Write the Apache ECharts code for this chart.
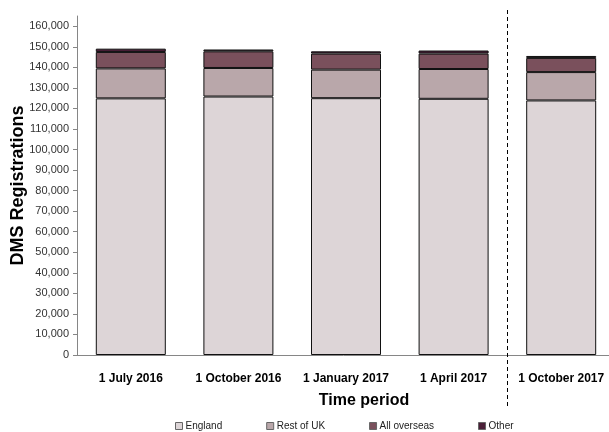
<!DOCTYPE html>
<html>
<head>
<meta charset="utf-8">
<script src="https://cdn.jsdelivr.net/npm/echarts@6/dist/echarts.min.js"></script>
<style>
  html, body { margin: 0; padding: 0; background: #fff; }
  #chart { width: 609px; height: 432px; }
</style>
</head>
<body>
<div id="chart"></div>
<script>
// DMS registrations by time period, stacked by location
const categories = ['1 July 2016', '1 October 2016', '1 January 2017', '1 April 2017', '1 October 2017'];
const england     = [124900, 125800, 125000, 124700, 123900];
const restOfUK    = [14600, 13900, 13900, 14500, 13800];
const allOverseas = [8000, 8100, 7800, 7500, 6900];
const other       = [1600, 900, 1100, 1500, 950];
const yTicks = [0, 10000, 20000, 30000, 40000, 50000, 60000, 70000, 80000,
                90000, 100000, 110000, 120000, 130000, 140000, 150000, 160000];
const yTitle = 'DMS Registrations';

const FONT = '"Liberation Sans", Arial, sans-serif';

const seriesDefs = [
  { name: 'England', data: england, color: '#DDD5D7' },
  { name: 'Rest of UK', data: restOfUK, color: '#B9A7AA' },
  { name: 'All overseas', data: allOverseas, color: '#7A505C' },
  { name: 'Other', data: other, color: '#4B1F38' }
];

const chart = echarts.init(document.getElementById('chart'), null, { renderer: 'canvas' });

chart.setOption({
  animation: false,
  textStyle: { fontFamily: FONT },
  // the plot runs slightly past the right edge of the canvas
  grid: { left: 77, width: 538, top: 16, bottom: 77, containLabel: false, outerBoundsMode: 'none' },
  legend: {
    left: 175,
    top: 421,
    padding: 0,
    itemWidth: 7,
    itemHeight: 7,
    itemGap: 44,
    icon: 'rect',
    textStyle: { fontSize: 10, color: '#222', fontFamily: FONT, padding: [0, 0, 0, -2] },
    data: seriesDefs.map(s => ({
      name: s.name,
      itemStyle: { color: s.color, borderColor: '#666', borderWidth: 1 }
    }))
  },
  xAxis: {
    type: 'category',
    data: categories,
    name: 'Time period',
    nameLocation: 'middle',
    nameGap: 38,
    nameTextStyle: { fontSize: 16, fontWeight: 'bold', color: '#000', fontFamily: FONT, padding: [0, 0, 0, 36] },
    axisLine: { lineStyle: { color: '#868686', width: 1 } },
    axisTick: { show: false },
    axisLabel: { fontSize: 12, fontWeight: 'bold', color: '#000', margin: 18, fontFamily: FONT, interval: 0 }
  },
  yAxis: {
    type: 'value',
    min: 0,
    max: 165000,
    interval: 10000,
    splitLine: { show: false },
    axisLine: { show: true, lineStyle: { color: '#868686', width: 1 } },
    axisTick: { show: true, length: 4, lineStyle: { color: '#868686' }, customValues: yTicks },
    axisLabel: {
      fontSize: 11,
      color: '#333',
      margin: 8,
      fontFamily: FONT,
      customValues: yTicks,
      formatter: v => v.toLocaleString('en-GB')
    }
  },
  series: seriesDefs.map(s => ({
    name: s.name,
    type: 'bar',
    stack: 'total',
    barWidth: 70,
    data: s.data,
    itemStyle: { color: s.color, borderColor: '#111', borderWidth: 1 }
  }))
});

// Dashed separator between the last two periods, and the vertical axis title
function drawExtras() {
  const a = chart.convertToPixel({ xAxisIndex: 0 }, categories[3]);
  const b = chart.convertToPixel({ xAxisIndex: 0 }, categories[4]);
  const x = Math.round((a + b) / 2) + 0.5;
  const y0 = chart.convertToPixel({ yAxisIndex: 0 }, 0);
  const y1 = chart.convertToPixel({ yAxisIndex: 0 }, 165000);
  chart.setOption({
    graphic: [{
      type: 'line',
      id: 'separator',
      shape: { x1: x, y1: 10, x2: x, y2: 406 },
      style: { stroke: '#000', lineWidth: 1, lineDash: [4, 3] },
      z: 100
    }, {
      type: 'text',
      id: 'yTitle',
      x: 18,
      y: (y0 + y1) / 2,
      rotation: Math.PI / 2,
      style: {
        text: yTitle,
        fontSize: 18,
        fontWeight: 'bold',
        fontFamily: FONT,
        fill: '#000',
        align: 'center',
        verticalAlign: 'middle'
      }
    }]
  });
}
drawExtras();
</script>
</body>
</html>
